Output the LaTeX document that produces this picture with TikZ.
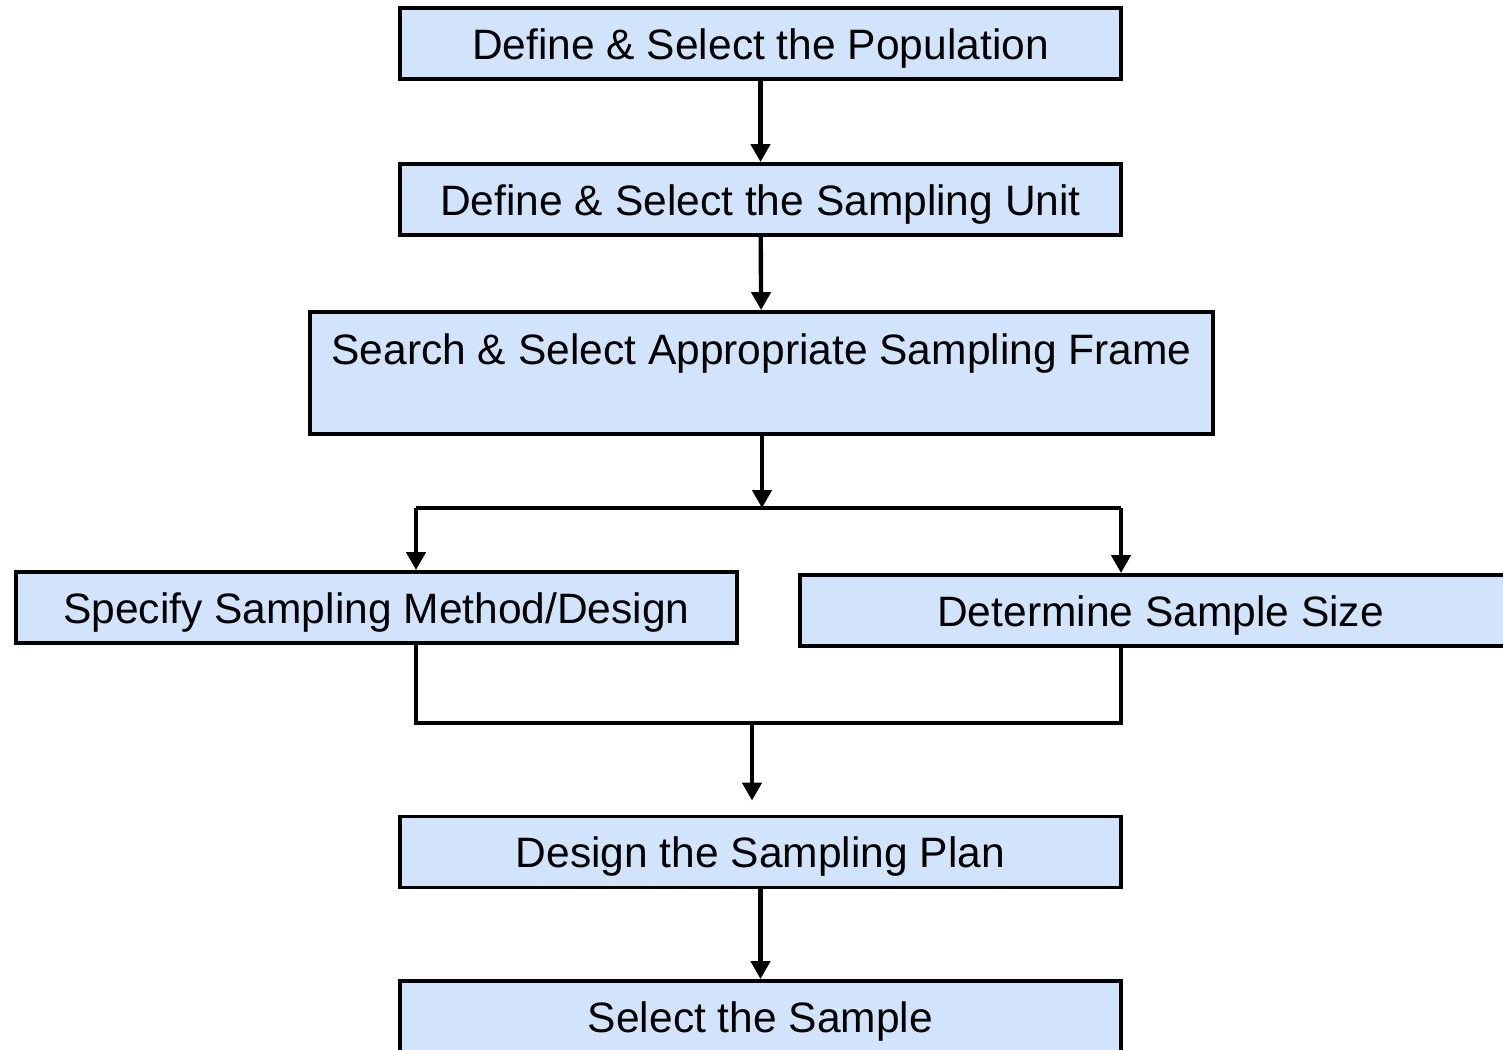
\documentclass[tikz,border=0pt]{standalone}
\usepackage{fontspec}
\setmainfont{Liberation Sans}
\usetikzlibrary{arrows.meta,positioning}
\definecolor{boxblue}{RGB}{210,228,252}
\tikzset{stepbox/.style={draw=black, line width=2.2pt, fill=boxblue,
                         minimum width=14.42cm, minimum height=1.42cm,
                         text height=0.62cm, text depth=0cm,
                         inner sep=0pt, font=\fontsize{24.2}{28}\selectfont},
        flowline/.style={line width=2.5pt},
        flowarrow/.style={flowline, -{Triangle[width=0.38cm,length=0.36cm]}},
        }

\begin{document}
\begin{tikzpicture}[x=0.02cm,y=-0.02cm]
    \useasboundingbox (0,0) rectangle (1503,1049);

    \node [stepbox] (population) at (760.5,43.5) {Define \& Select the Population};
    \node [stepbox] (unit) at (760.5,199.5) {Define \& Select the Sampling Unit};
    \node [stepbox, minimum width=18.06cm, text height=1.04cm, text depth=1.40cm] (frame) at (761.5,373) {Search \& Select Appropriate Sampling Frame};
    \node [stepbox] (method) at (376.5,607.5) {Specify Sampling Method/Design};
    \node [stepbox] (size) at (1160.5,610.5) {Determine Sample Size};
    \node [stepbox] (plan) at (760.5,852) {Design the Sampling Plan};
    \node [stepbox] (sample) at (760.5,1016.5) {Select the Sample};

    \coordinate (split) at (762,508);
    \coordinate (splitL) at (416,508);
    \coordinate (splitR) at (1121,508);
    \coordinate (joinL) at (416,723);
    \coordinate (joinR) at (1121,723);
    \coordinate (join) at (752,723);

    \draw [flowarrow] (population) -- (unit);
    \draw [flowarrow] (unit) -- (frame);
    \draw [flowarrow] (frame.south -| split) -- (split);
    \draw [flowline] (splitL) -- (splitR);
    \draw [flowarrow] (splitL) -- (splitL |- method.north);
    \draw [flowarrow] (splitR) -- (splitR |- size.north);

    \draw [flowline] (joinL |- method.south) -- (joinL) -- (joinR) -- (joinR |- size.south);
    \draw [flowarrow, shorten >=0.28cm] (join) -- (join |- plan.north);
    \draw [flowarrow] (plan) -- (sample);
\end{tikzpicture}
\end{document}
